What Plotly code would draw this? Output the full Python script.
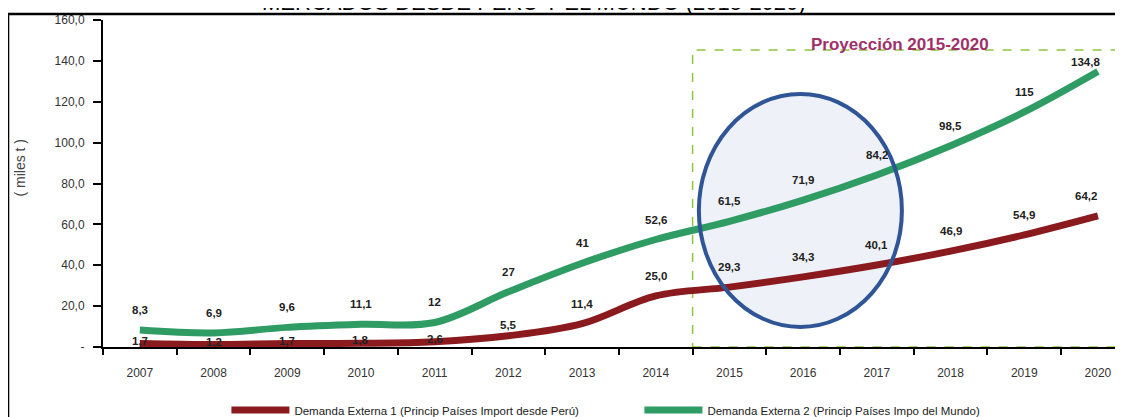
"""Demanda externa: Perú y el mundo, 2007-2020 (proyección 2015-2020)."""

import plotly.graph_objects as go

years = [str(y) for y in range(2007, 2021)]
demanda_peru = [1.7, 1.2, 1.7, 1.8, 2.6, 5.5, 11.4, 25.0, 29.3, 34.3, 40.1, 46.9, 54.9, 64.2]
demanda_mundo = [8.3, 6.9, 9.6, 11.1, 12, 27, 41, 52.6, 61.5, 71.9, 84.2, 98.5, 115, 134.8]
y_ticks = [0, 20, 40, 60, 80, 100, 120, 140, 160]
y_tick_text = ["-", "20,0", "40,0", "60,0", "80,0", "100,0", "120,0", "140,0", "160,0"]

name_peru = "Demanda Externa 1 (Princip Países Import desde Perú)"
name_mundo = "Demanda Externa 2 (Princip Países Impo del Mundo)"

RED = "#8b1a1e"
GREEN = "#2f9c63"
FONT = "Liberation Sans, Arial, sans-serif"

fig = go.Figure()
fig.add_trace(go.Scatter(
    x=years, y=demanda_peru, name=name_peru, mode="lines",
    line=dict(color=RED, width=7, shape="spline", smoothing=1.0),
))
fig.add_trace(go.Scatter(
    x=years, y=demanda_mundo, name=name_mundo, mode="lines",
    line=dict(color=GREEN, width=7, shape="spline", smoothing=1.0),
))

# data labels (category axis -> position by index)
last = len(years) - 1
for series, is_peru in ((demanda_peru, True), (demanda_mundo, False)):
    for i, v in enumerate(series):
        shift = 20
        if is_peru and v < 5:
            shift = 3
        elif is_peru and v < 10:
            shift = 11
        if i == last and not is_peru:
            shift = 10
        fig.add_annotation(
            x=i, y=v, xref="x", yref="y", text=str(v).replace(".", ","),
            showarrow=False, yshift=shift, xshift=-12 if i == last else 0,
            font=dict(family=FONT, size=11.5, color="#222222", weight="bold"),
        )

# projection box
fig.add_shape(type="rect", xref="x", yref="y", x0=7.5, x1=14, y0=0, y1=145.3,
              line=dict(color="#8cc63f", width=1.5, dash="dash"), layer="below")
fig.add_annotation(
    xref="paper", yref="paper", x=0.781, y=0.960, xanchor="center",
    text="<b>Proyección 2015-2020</b>",
    showarrow=False, font=dict(family=FONT, size=17, color="#a0306a"),
)

# highlight ellipse: fill under the lines, outline over them
fig.add_shape(type="circle", xref="x", yref="y", x0=7.585, x1=10.34, y0=9.8, y1=123.8,
              line=dict(width=0), fillcolor="#eef1f8", layer="below")
fig.add_shape(type="circle", xref="x", yref="y", x0=7.585, x1=10.34, y0=9.8, y1=123.8,
              line=dict(color="#2f5597", width=4), fillcolor="rgba(0,0,0,0)",
              layer="above")

# page frame and clipped title
fig.add_shape(type="line", xref="paper", yref="paper", x0=-0.0931, x1=1.01,
              y0=1.0183, y1=1.0183, line=dict(color="black", width=2.5))
fig.add_shape(type="line", xref="paper", yref="paper", x0=-0.0931, x1=-0.0931,
              y0=1.0183, y1=-0.25, line=dict(color="black", width=2.5))
fig.add_annotation(
    xref="paper", yref="paper", x=0.4225, y=1.052, xanchor="center", yanchor="middle",
    text="MERCADOS DESDE PERU Y EL MUNDO (2015-2020)", showarrow=False,
    font=dict(family=FONT, size=22, color="black"),
)
fig.add_annotation(
    xref="paper", yref="paper", x=-0.081, y=0.55, xanchor="center", yanchor="middle",
    text="( miles t )", textangle=-90,
    showarrow=False, font=dict(family=FONT, size=14, color="#444444"),
)

# the page adds an 8 px body margin, so the figure is sized to fit the window
fig.update_layout(
    width=1115,
    height=409,
    margin=dict(l=95, r=0, t=12, b=70, autoexpand=False),
    paper_bgcolor="white",
    plot_bgcolor="white",
    font=dict(family=FONT, size=11, color="#333333"),
    showlegend=True,
    legend=dict(
        orientation="h", x=0.121, y=-0.193, xanchor="left", yanchor="middle",
        entrywidth=340, entrywidthmode="pixels", itemwidth=58,
        font=dict(family=FONT, size=11.5, color="#222222"),
        bgcolor="rgba(0,0,0,0)",
    ),
    xaxis=dict(
        type="category", categoryorder="array", categoryarray=years,
        range=[-0.5, 13.34], showline=True, linecolor="black", linewidth=2,
        ticks="outside", tickson="boundaries", ticklen=6, tickwidth=2, tickcolor="black",
        showgrid=False, zeroline=False, ticklabelstandoff=14,
        tickfont=dict(family=FONT, size=12, color="#333333"),
    ),
    yaxis=dict(
        range=[0, 160], tickvals=y_ticks, ticktext=y_tick_text,
        showline=True, linecolor="black", linewidth=2,
        ticks="outside", ticklen=8, tickwidth=2, tickcolor="black",
        showgrid=False, zeroline=False, ticklabelstandoff=6,
        tickfont=dict(family=FONT, size=12, color="#333333"),
    ),
)

fig.write_html("out.html")
